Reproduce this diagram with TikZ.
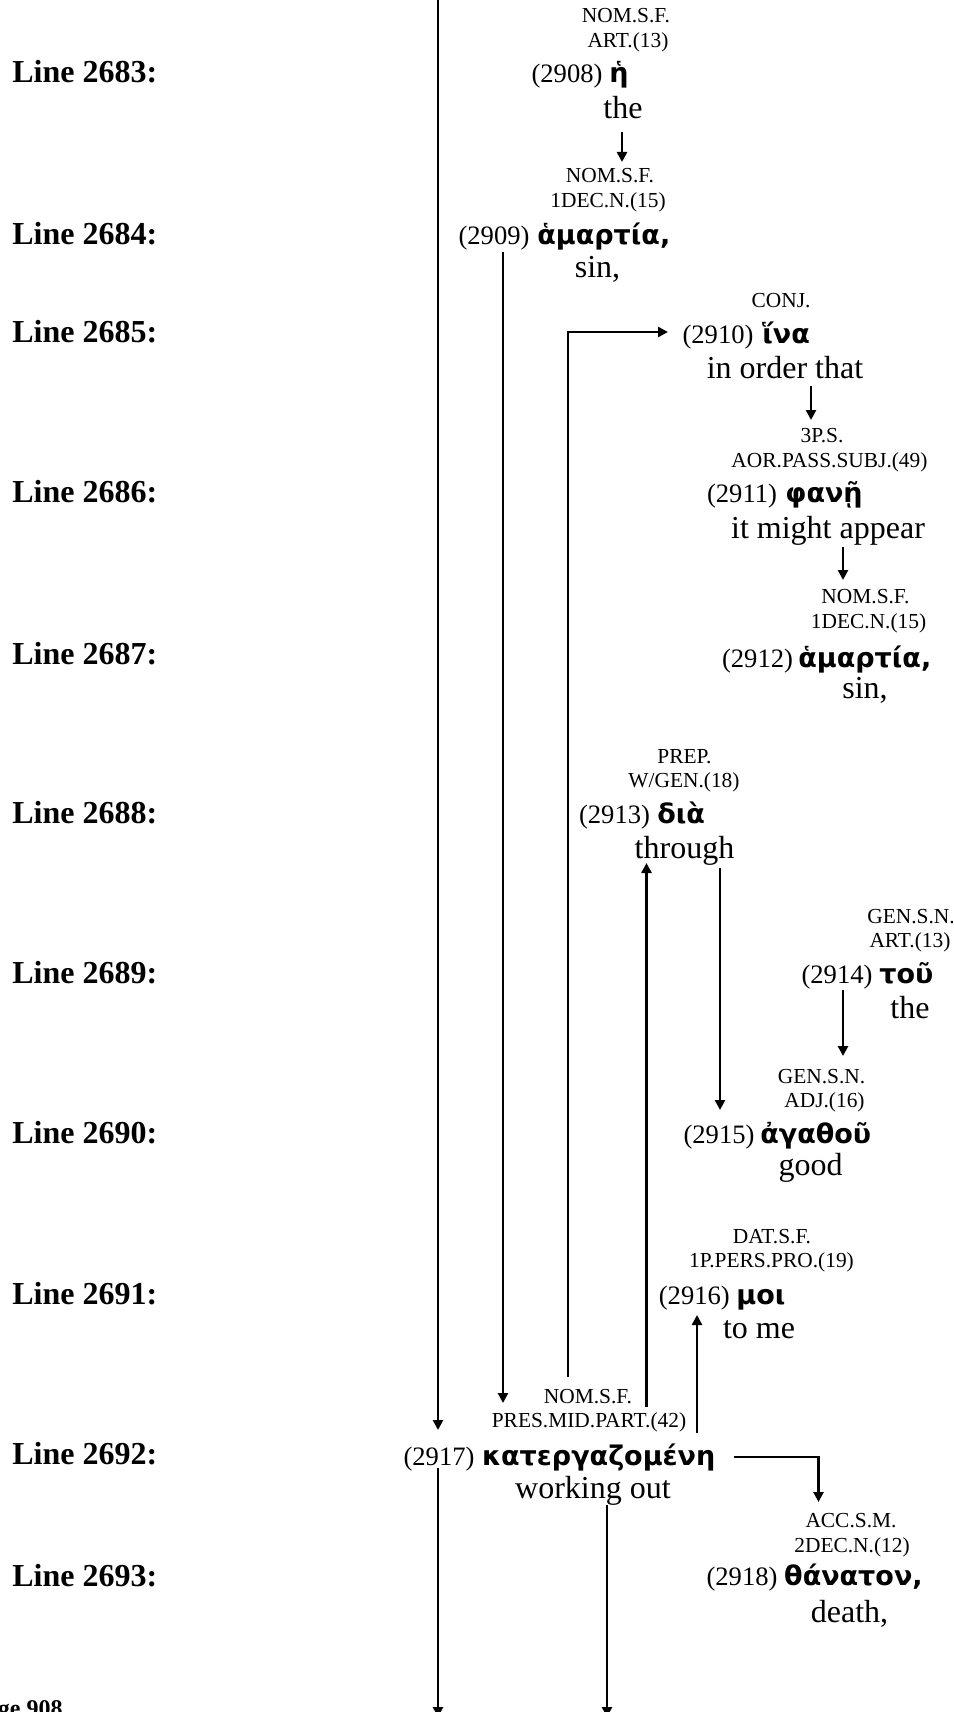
\documentclass[tikz,border=0pt]{standalone}
\usepackage{fontspec}
\setmainfont{Liberation Serif}
\newfontfamily\gkfont{DejaVu Sans}
\usetikzlibrary{arrows.meta}
\tikzset{
  morph/.style={font=\fontsize{10.7}{12}\selectfont, anchor=base, inner sep=0pt},
  numtxt/.style={font=\fontsize{13.3}{15}\selectfont, anchor=base, inner sep=0pt},
  gktxt/.style={font=\gkfont\bfseries\fontsize{13.5}{15}\selectfont, anchor=base west, inner sep=0pt},
  gloss/.style={font=\fontsize{16}{18}\selectfont, anchor=base, inner sep=0pt},
  lbl/.style={font=\bfseries\fontsize{16}{18}\selectfont, anchor=base west, inner sep=0pt},
  conn/.style={line width=1.25pt},
  arr/.style={conn, -{Triangle[length=5pt,width=5pt]}}
}
\begin{document}
\begin{tikzpicture}[x=0.5pt,y=-0.5pt]
\useasboundingbox (0,0) rectangle (953,1712);

% line labels
\node[lbl] (L2683) at (12,83) {Line 2683:};
\node[lbl] (L2684) at (12,245) {Line 2684:};
\node[lbl] (L2685) at (12,342) {Line 2685:};
\node[lbl] (L2686) at (12,502) {Line 2686:};
\node[lbl] (L2687) at (12,664) {Line 2687:};
\node[lbl] (L2688) at (12,823) {Line 2688:};
\node[lbl] (L2689) at (12,983) {Line 2689:};
\node[lbl] (L2690) at (12,1143) {Line 2690:};
\node[lbl] (L2691) at (12,1304) {Line 2691:};
\node[lbl] (L2692) at (12,1464) {Line 2692:};
\node[lbl] (L2693) at (12,1586) {Line 2693:};
\node[font=\bfseries\fontsize{12}{14}\selectfont, anchor=base east, inner sep=0pt] (page) at (63,1716) {Page 908};

% 2908
\node[morph] (m2908a) at (626,23) {NOM.S.F.};
\node[morph] (m2908b) at (628,48) {ART.(13)};
\node[numtxt] (n2908) at (567,83) {(2908)};
\node[gktxt] (g2908) at (609,83) {ἡ};
\node[gloss] (e2908) at (623,119) {the};

% 2909
\node[morph] (m2909a) at (610,183) {NOM.S.F.};
\node[morph] (m2909b) at (608,208) {1DEC.N.(15)};
\node[numtxt] (n2909) at (494,245) {(2909)};
\node[gktxt] (g2909) at (537,245) {ἁμαρτία,};
\node[gloss] (e2909) at (597.5,278) {sin,};

% 2910
\node[morph] (m2910a) at (781,307) {CONJ.};
\node[numtxt] (n2910) at (718,343) {(2910)};
\node[gktxt] (g2910) at (762,343) {ἵνα};
\node[gloss] (e2910) at (785,378) {in order that};

% 2911
\node[morph] (m2911a) at (822,442) {3P.S.};
\node[morph] (m2911b) at (829.5,467) {AOR.PASS.SUBJ.(49)};
\node[numtxt] (n2911) at (742,502) {(2911)};
\node[gktxt] (g2911) at (785,502) {φανῇ};
\node[gloss] (e2911) at (828,538) {it might appear};

% 2912
\node[morph] (m2912a) at (865.5,603) {NOM.S.F.};
\node[morph] (m2912b) at (868.5,628) {1DEC.N.(15)};
\node[numtxt] (n2912) at (757.5,667) {(2912)};
\node[gktxt] (g2912) at (798,667) {ἁμαρτία,};
\node[gloss] (e2912) at (865,698) {sin,};

% 2913
\node[morph] (m2913a) at (684.5,763) {PREP.};
\node[morph] (m2913b) at (684,787) {W/GEN.(18)};
\node[numtxt] (n2913) at (614.5,823) {(2913)};
\node[gktxt] (g2913) at (657,823) {διὰ};
\node[gloss] (e2913) at (684.5,858) {through};

% 2914
\node[morph] (m2914a) at (911,923) {GEN.S.N.};
\node[morph] (m2914b) at (910,947) {ART.(13)};
\node[numtxt] (n2914) at (837,983) {(2914)};
\node[gktxt] (g2914) at (879,983) {τοῦ};
\node[gloss] (e2914) at (910,1018) {the};

% 2915
\node[morph] (m2915a) at (821.5,1083) {GEN.S.N.};
\node[morph] (m2915b) at (824.5,1107) {ADJ.(16)};
\node[numtxt] (n2915) at (719,1143) {(2915)};
\node[gktxt] (g2915) at (760,1143) {ἀγαθοῦ};
\node[gloss] (e2915) at (810.5,1175) {good};

% 2916
\node[morph] (m2916a) at (772,1243) {DAT.S.F.};
\node[morph] (m2916b) at (771.5,1267) {1P.PERS.PRO.(19)};
\node[numtxt] (n2916) at (694.3,1304) {(2916)};
\node[gktxt] (g2916) at (736,1304) {μοι};
\node[gloss] (e2916) at (759,1338) {to me};

% 2917
\node[morph] (m2917a) at (588,1403) {NOM.S.F.};
\node[morph] (m2917b) at (589,1427) {PRES.MID.PART.(42)};
\node[numtxt] (n2917) at (439,1465) {(2917)};
\node[gktxt] (g2917) at (481.6,1465) {κατεργαζομένη};
\node[gloss] (e2917) at (593,1498) {working out};

% 2918
\node[morph] (m2918a) at (851,1527) {ACC.S.M.};
\node[morph] (m2918b) at (852,1552) {2DEC.N.(12)};
\node[numtxt] (n2918) at (742,1585) {(2918)};
\node[gktxt] (g2918) at (783.8,1585) {θάνατον,};
\node[gloss] (e2918) at (849.5,1622) {death,};

% connector end points
\coordinate (topA) at (438,-5);
\coordinate (tip2917a) at (438,1430);
\coordinate (s2909) at (503,252);
\coordinate (tip2917b) at (503,1403);
\coordinate (s2917c) at (568,1377);
\coordinate (k2910) at (568,332);
\coordinate (tip2910) at (668,332);
\coordinate (s2917d) at (646.5,1407);
\coordinate (tip2913) at (646.5,863);
\coordinate (s2913) at (720,868);
\coordinate (tip2915a) at (720,1110);
\coordinate (s2914) at (843,990);
\coordinate (tip2915b) at (843,1056);
\coordinate (s2917e) at (697,1433);
\coordinate (tip2916) at (697,1315);
\coordinate (s2917f) at (734,1457);
\coordinate (k2918) at (818.5,1457);
\coordinate (tip2918) at (818.5,1502);
\coordinate (s2908) at (622,132);
\coordinate (tip2909) at (622,162);
\coordinate (s2910) at (811,386);
\coordinate (tip2911) at (811,420);
\coordinate (s2911) at (843,547);
\coordinate (tip2912) at (843,580);
\coordinate (s2917g) at (438,1468);
\coordinate (out1) at (438,1717);
\coordinate (s2917h) at (607,1505);
\coordinate (out2) at (607,1717);

% connectors
\draw[arr] (topA) -- (tip2917a);
\draw[arr] (s2909) -- (tip2917b);
\draw[arr] (s2917c) -- (k2910) -- (tip2910);
\draw[arr] (s2917d) -- (tip2913);
\draw[arr] (s2913) -- (tip2915a);
\draw[arr] (s2914) -- (tip2915b);
\draw[arr] (s2917e) -- (tip2916);
\draw[arr] (s2917f) -- (k2918) -- (tip2918);
\draw[arr] (s2908) -- (tip2909);
\draw[arr] (s2910) -- (tip2911);
\draw[arr] (s2911) -- (tip2912);
\draw[arr] (s2917g) -- (out1);
\draw[arr] (s2917h) -- (out2);
\end{tikzpicture}
\end{document}
